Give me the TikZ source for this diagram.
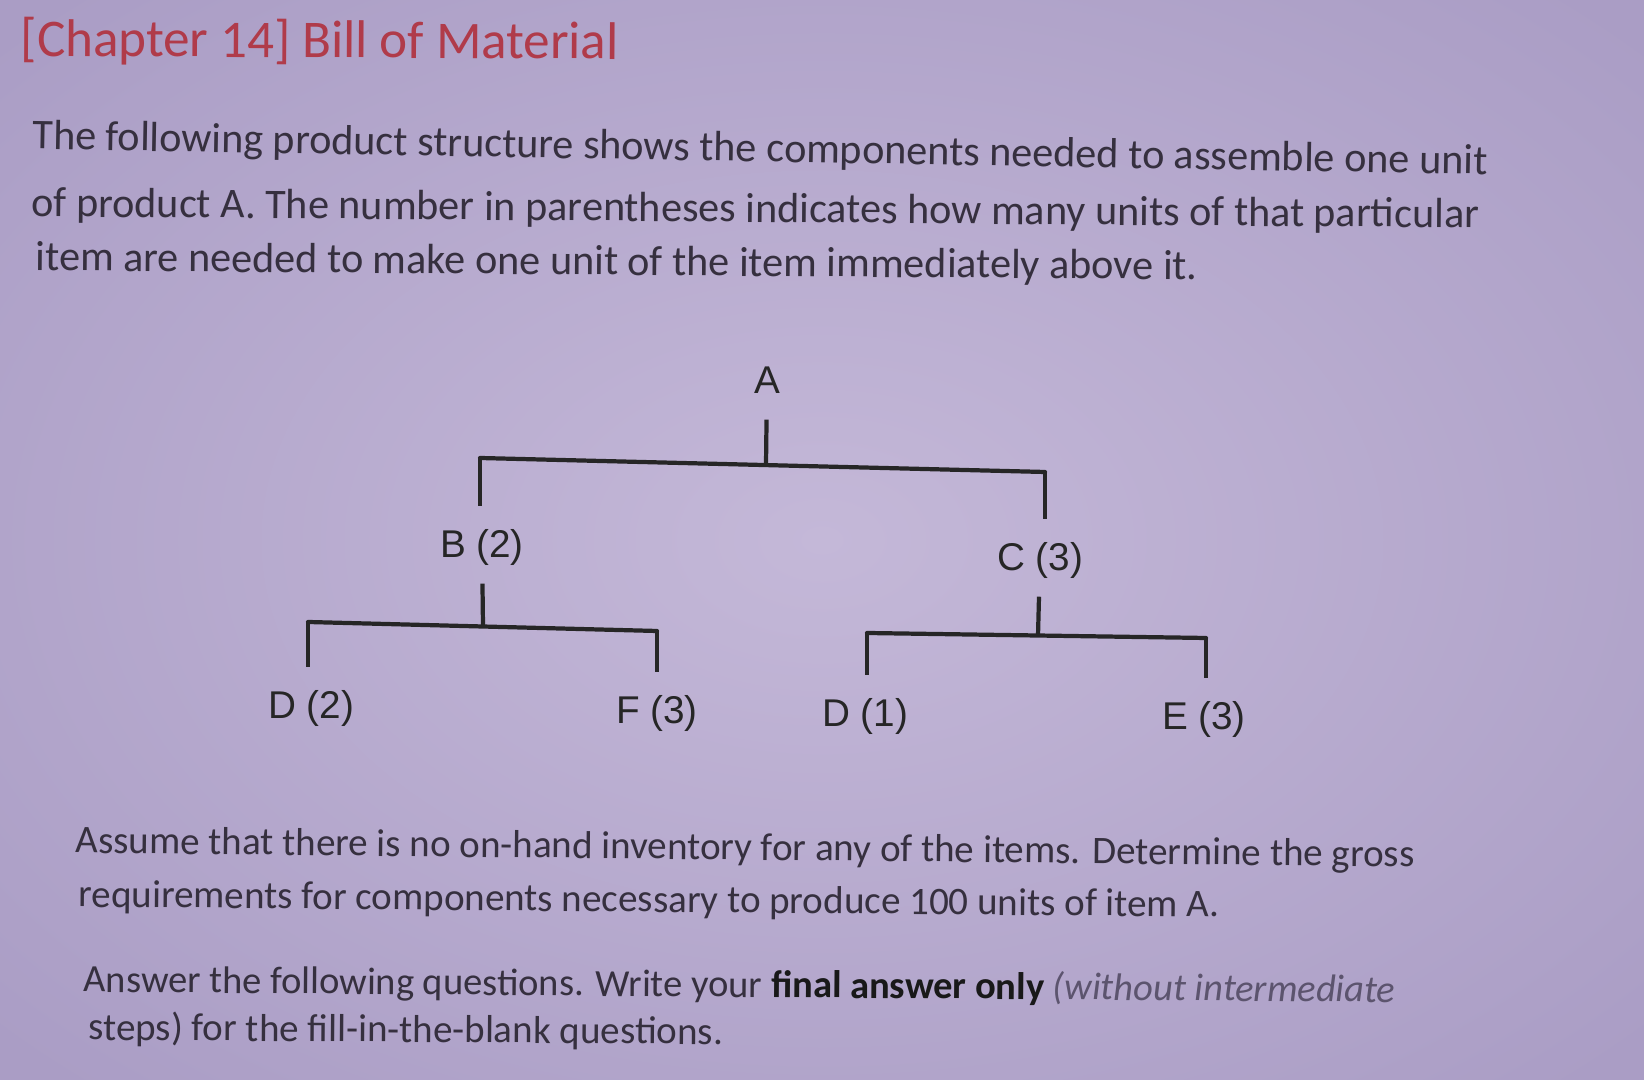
\documentclass[tikz,border=0pt]{standalone}
\usepackage{fontspec}
\usepackage{tkz-euclide}
\setmainfont{Carlito}
\newfontfamily\arialfont{Liberation Sans}
\definecolor{paperin}{HTML}{C4B8D8}
\definecolor{paperout}{HTML}{AA9DC5}
\definecolor{ink}{HTML}{36303F}
\definecolor{softink}{HTML}{5C546E}
\definecolor{titlered}{HTML}{B03B4A}
\tikzset{
  part/.style={font=\arialfont\fontsize{11}{13}\selectfont, text=black!85,
    inner sep=0pt, text height=0.72em, text depth=0pt, minimum height=0.76cm},
  bar/.style={line width=1.2pt, black!85},
  para/.style={font=\fontsize{12}{14}\selectfont, text=ink, inner sep=0pt, anchor=base west},
  lowpara/.style={font=\fontsize{11.1}{14}\selectfont, text=ink, inner sep=0pt, anchor=base west},
  title/.style={font=\fontsize{15.1}{18}\selectfont, text=titlered, inner sep=0pt, anchor=base west}
}

\begin{document}
\begin{tikzpicture}[x=0.01cm, y=-0.01cm]
    \useasboundingbox (0,0) rectangle (1644,1080);
    \shade[inner color=paperin, outer color=paperout] (-300,-200) rectangle (1944,1280);

    \node[title, rotate=-0.3] (head) at (20,56) {[Chapter 14] Bill of Material};
    \node[para, rotate=-1.0] (l1) at (32,149)
        {The following product structure shows the components needed to assemble one unit};
    \node[para, rotate=-0.45] (l2) at (31,216.5)
        {of product A. The number in parentheses indicates how many units of that particular};
    \node[para, rotate=-0.45] (l3) at (35,270.5)
        {item are needed to make one unit of the item immediately above it.};

    \node[part] (A) at (767,381) {A};
    \node[part] (B) at (482,545) {B (2)};
    \node[part] (C) at (1040,558) {C (3)};
    \node[part] (D2) at (311,706) {D (2)};
    \node[part] (F) at (657,711) {F (3)};
    \node[part] (D1) at (865,714) {D (1)};
    \node[part] (E) at (1204,717) {E (3)};

    \tkzDefPoints{480/458/Al,1045/472/Ar,766/465/Aj,
      308/622/Bl,657/631/Br,483/626/Bj,
      867/633/Cl,1206/638/Cr,1038/636/Cj}
    \tkzDrawSegments[bar](Al,Ar Bl,Br Cl,Cr)
    \draw[bar] (A) -- (Aj);
    \draw[bar] (Al) -- (Al |- B.north);
    \draw[bar] (Ar) -- (Ar |- C.north);
    \draw[bar] (B) -- (Bj);
    \draw[bar] (Bl) -- (Bl |- D2.north);
    \draw[bar] (Br) -- (Br |- F.north);
    \draw[bar] (C) -- (Cj);
    \draw[bar] (Cl) -- (Cl |- D1.north);
    \draw[bar] (Cr) -- (Cr |- E.north);

    \node[lowpara, rotate=-0.6] (q1) at (75,853)
        {Assume that there is no on-hand inventory for any of the items. Determine the gross};
    \node[lowpara, rotate=-0.5] (q2) at (78,907)
        {requirements for components necessary to produce 100 units of item A.};
    \node[lowpara, rotate=-0.45, font=\fontsize{10.95}{14}\selectfont] (q3) at (83,992)
        {Answer the following questions. Write your \textbf{\color{black!90}final answer only} {\color{softink}\itshape (without intermediate}};
    \node[lowpara, rotate=-0.4] (q4) at (88,1040)
        {steps) for the fill-in-the-blank questions.};
\end{tikzpicture}
\end{document}
